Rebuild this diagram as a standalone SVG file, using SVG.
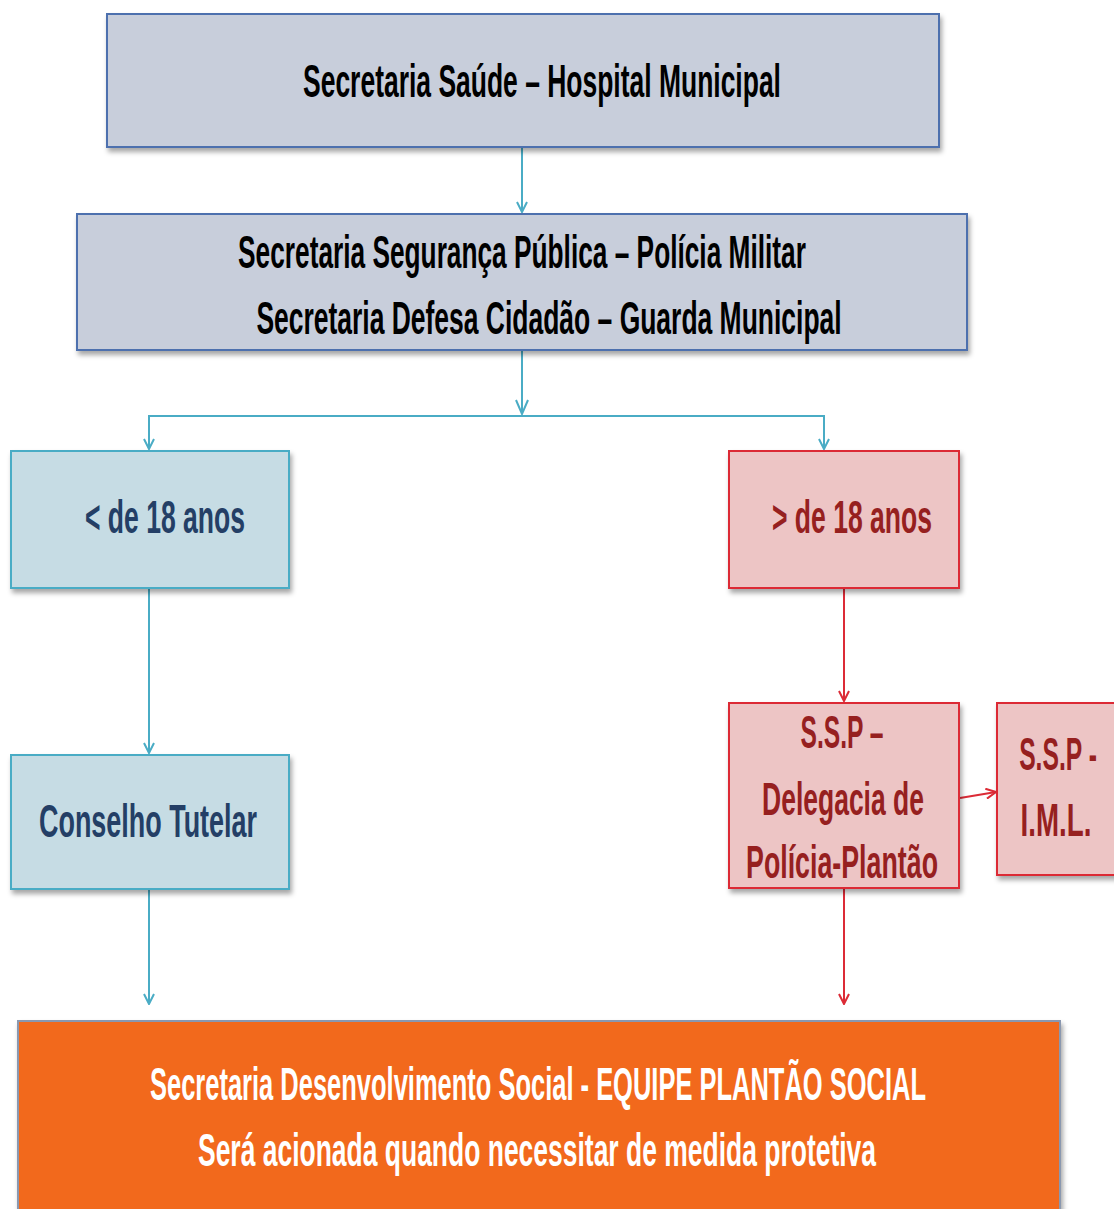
<svg xmlns="http://www.w3.org/2000/svg" width="1114" height="1209" viewBox="0 0 1114 1209">
<style>
.t{font-family:"Liberation Sans",Arial,sans-serif;font-weight:bold;text-anchor:middle;font-size:46px}
.gray{fill:#c8cedb;stroke:#4e6fae;stroke-width:2}
.blue{fill:#c6dce4;stroke:#4aacc5;stroke-width:2}
.red{fill:#edc5c5;stroke:#dc2b36;stroke-width:2}
.org{fill:#f2691e;stroke:#8a98b0;stroke-width:2}
.cb{fill:none;stroke:#4aacc5;stroke-width:2}
.cr{fill:none;stroke:#dc2b36;stroke-width:2}
</style>
<defs>
<filter id="sh" x="-10%" y="-10%" width="120%" height="130%">
<feDropShadow dx="2" dy="4" stdDeviation="2.5" flood-color="#000" flood-opacity="0.35"/>
</filter>
<marker id="ab" viewBox="0 0 12 12" refX="11" refY="6" markerWidth="12" markerHeight="12" markerUnits="userSpaceOnUse" orient="auto">
<path d="M1,1 L11,6 L1,11" fill="none" stroke="#4aacc5" stroke-width="2"/>
</marker>
<marker id="ar" viewBox="0 0 12 12" refX="11" refY="6" markerWidth="12" markerHeight="12" markerUnits="userSpaceOnUse" orient="auto">
<path d="M1,1 L11,6 L1,11" fill="none" stroke="#dc2b36" stroke-width="2"/>
</marker>
</defs>
<rect width="1114" height="1209" fill="#fff"/>
<g id="connectors">
<path class="cb" d="M522,148 V212" marker-end="url(#ab)"/>
<path class="cb" d="M522,351 V414"/>
<path class="cb" d="M516,400 L522,414 L528,400"/>
<path class="cb" d="M149,449 V416 H824 V449"/>
<path class="cb" d="M149,432 V449" marker-end="url(#ab)"/>
<path class="cb" d="M824,432 V449" marker-end="url(#ab)"/>
<path class="cb" d="M149,589 V753" marker-end="url(#ab)"/>
<path class="cb" d="M149,890 V1004" marker-end="url(#ab)"/>
<path class="cr" d="M844,589 V701" marker-end="url(#ar)"/>
<path class="cr" d="M844,889 V1004" marker-end="url(#ar)"/>
<path class="cr" d="M960,798 L996,792" marker-end="url(#ar)"/>
</g>
<g id="n1">
<rect class="gray" x="107" y="14" width="832" height="133" filter="url(#sh)"/>
<text class="t" transform="translate(542,97) scale(0.58,1)" textLength="824" lengthAdjust="spacingAndGlyphs" fill="#000">Secretaria Saúde – Hospital Municipal</text>
</g>
<g id="n2">
<rect class="gray" x="77" y="214" width="890" height="136" filter="url(#sh)"/>
<text class="t" transform="translate(522,268) scale(0.58,1)" textLength="979" lengthAdjust="spacingAndGlyphs" fill="#000">Secretaria Segurança Pública – Polícia Militar</text>
<text class="t" transform="translate(549,334) scale(0.58,1)" textLength="1009" lengthAdjust="spacingAndGlyphs" fill="#000">Secretaria Defesa Cidadão – Guarda Municipal</text>
</g>
<g id="n3">
<rect class="blue" x="11" y="451" width="278" height="137" filter="url(#sh)"/>
<text class="t" transform="translate(165,533) scale(0.58,1)" textLength="276" lengthAdjust="spacingAndGlyphs" fill="#243f66">&lt; de 18 anos</text>
</g>
<g id="n4">
<rect class="red" x="729" y="451" width="230" height="137" filter="url(#sh)"/>
<text class="t" transform="translate(852,533) scale(0.58,1)" textLength="276" lengthAdjust="spacingAndGlyphs" fill="#96201f">&gt; de 18 anos</text>
</g>
<g id="n5">
<rect class="blue" x="11" y="755" width="278" height="134" filter="url(#sh)"/>
<text class="t" transform="translate(148,837) scale(0.58,1)" textLength="376" lengthAdjust="spacingAndGlyphs" fill="#243f66">Conselho Tutelar</text>
</g>
<g id="n6">
<rect class="red" x="729" y="703" width="230" height="185" filter="url(#sh)"/>
<text class="t" transform="translate(842,748) scale(0.58,1)" textLength="143" lengthAdjust="spacingAndGlyphs" fill="#96201f">S.S.P –</text>
<text class="t" transform="translate(843,815) scale(0.58,1)" textLength="279" lengthAdjust="spacingAndGlyphs" fill="#96201f">Delegacia de</text>
<text class="t" transform="translate(842,878) scale(0.58,1)" textLength="331" lengthAdjust="spacingAndGlyphs" fill="#96201f">Polícia-Plantão</text>
</g>
<g id="n7">
<rect class="red" x="997" y="703" width="130" height="172" filter="url(#sh)"/>
<text class="t" transform="translate(1058,770) scale(0.58,1)" textLength="134" lengthAdjust="spacingAndGlyphs" fill="#96201f">S.S.P -</text>
<text class="t" transform="translate(1056,836) scale(0.58,1)" textLength="122" lengthAdjust="spacingAndGlyphs" fill="#96201f">I.M.L.</text>
</g>
<g id="n8">
<rect class="org" x="18" y="1021" width="1042" height="200" filter="url(#sh)"/>
<text class="t" transform="translate(538,1100) scale(0.58,1)" textLength="1338" lengthAdjust="spacingAndGlyphs" fill="#fff">Secretaria Desenvolvimento Social - EQUIPE PLANTÃO SOCIAL</text>
<text class="t" transform="translate(537,1166) scale(0.58,1)" textLength="1169" lengthAdjust="spacingAndGlyphs" fill="#fff">Será acionada quando necessitar de medida protetiva</text>
</g>
</svg>
